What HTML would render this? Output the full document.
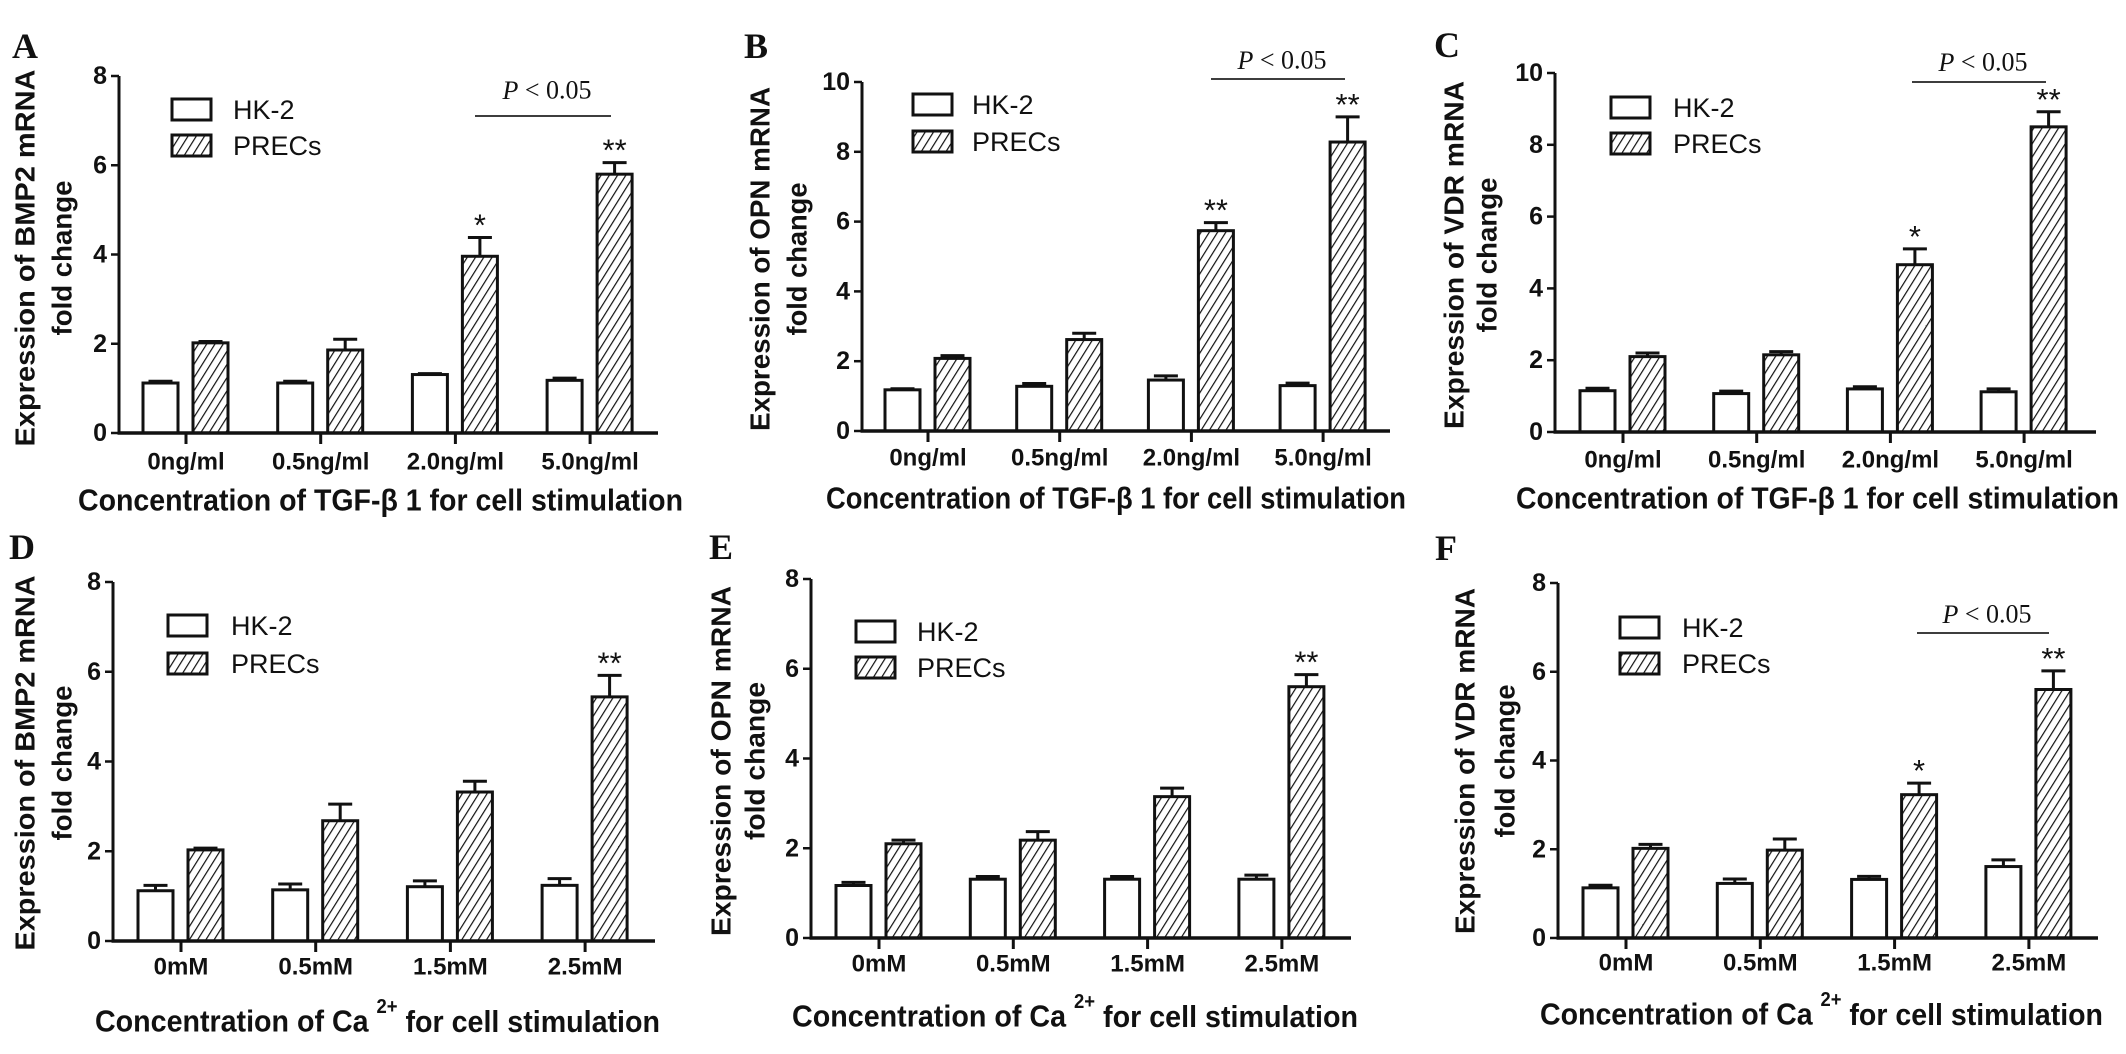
<!DOCTYPE html>
<html><head><meta charset="utf-8"><style>
html,body{margin:0;padding:0;background:#fff;}
svg{display:block;}
text{font-family:"Liberation Sans",Arial,sans-serif;fill:#111;}
text.serif, text.serif tspan{font-family:"Liberation Serif","Times New Roman",serif;}
</style></head><body>
<svg id="fig" width="2126" height="1054" viewBox="0 0 2126 1054" xmlns="http://www.w3.org/2000/svg">
<defs>
<pattern id="hatch" patternUnits="userSpaceOnUse" width="7" height="7" patternTransform="rotate(32)">
<rect width="7" height="7" fill="#fff"/>
<line x1="0" y1="0" x2="0" y2="7" stroke="#111" stroke-width="2.4"/>
</pattern>
</defs>
</svg>
<script>
// ---- data ----
const catTGF = ['0ng/ml','0.5ng/ml','2.0ng/ml','5.0ng/ml'];
const catCa = ['0mM','0.5mM','1.5mM','2.5mM'];
const hkA = [1.12,1.12,1.31,1.18];   const hkErrA = [0.04,0.04,0.02,0.05];
const prA = [2.02,1.86,3.96,5.80];   const prErrA = [0.03,0.24,0.42,0.26];
const hkB = [1.18,1.28,1.46,1.30];   const hkErrB = [0.03,0.08,0.12,0.07];
const prB = [2.08,2.62,5.74,8.28];   const prErrB = [0.08,0.18,0.23,0.72];
const hkC = [1.15,1.07,1.20,1.12];   const hkErrC = [0.07,0.07,0.06,0.08];
const prC = [2.10,2.15,4.66,8.50];   const prErrC = [0.10,0.09,0.44,0.42];
const hkD = [1.12,1.14,1.21,1.24];   const hkErrD = [0.12,0.13,0.13,0.15];
const prD = [2.03,2.68,3.32,5.44];   const prErrD = [0.04,0.37,0.24,0.48];
const hkE = [1.17,1.31,1.31,1.31];   const hkErrE = [0.07,0.06,0.06,0.09];
const prE = [2.10,2.18,3.15,5.60];   const prErrE = [0.08,0.19,0.19,0.27];
const hkF = [1.13,1.23,1.32,1.61];   const hkErrF = [0.06,0.10,0.07,0.15];
const prF = [2.02,1.98,3.23,5.60];   const prErrF = [0.09,0.25,0.26,0.42];
const starsA = ['','','*','**'];
const starsB = ['','','**','**'];
const starsC = ['','','*','**'];
const starsD = ['','','','**'];
const starsE = ['','','','**'];
const starsF = ['','','*','**'];
const yTicks8 = [0,2,4,6,8];
const yTicks10 = [0,2,4,6,8,10];

const svg = document.getElementById('fig');
const NS = 'http://www.w3.org/2000/svg';
function mk(tag, attrs, parent){
  const e = document.createElementNS(NS, tag);
  for (const k in attrs) e.setAttribute(k, attrs[k]);
  (parent||svg).appendChild(e);
  return e;
}

const panels = [
 {id:'a',letter:'A',lx:12,ly:58,ax:119,y0:433,yTop:76,ymax:8,ticks:yTicks8,xEnd:658,g0:186,gs:134.7,
  cats:catTGF,hk:hkA,hkE:hkErrA,pr:prA,prE:prErrA,stars:starsA,
  lgX:172,lgHK:99,lgPR:135,lgT:233,p:{x1:475,x2:611,y:116,ty:90},
  yt:['Expression of BMP2  mRNA','fold change'],ytx:[25,62],ytc:258,ytl:[377,155],
  xty:462,xtitle:'tgf',xtY:500,xt1:78,xt2:683},
 {id:'b',letter:'B',lx:744,ly:58,ax:862,y0:431,yTop:82,ymax:10,ticks:yTicks10,xEnd:1390,g0:928,gs:131.7,
  cats:catTGF,hk:hkB,hkE:hkErrB,pr:prB,prE:prErrB,stars:starsB,
  lgX:913,lgHK:94,lgPR:131,lgT:972,p:{x1:1211,x2:1345,y:79,ty:60},
  yt:['Expression of OPN mRNA','fold change'],ytx:[760,797],ytc:259,ytl:[344,153],
  xty:458,xtitle:'tgf',xtY:498,xt1:826,xt2:1406},
 {id:'c',letter:'C',lx:1434,ly:57,ax:1555,y0:432,yTop:73,ymax:10,ticks:yTicks10,xEnd:2096,g0:1623,gs:133.7,
  cats:catTGF,hk:hkC,hkE:hkErrC,pr:prC,prE:prErrC,stars:starsC,
  lgX:1611,lgHK:97,lgPR:133,lgT:1673,p:{x1:1912,x2:2046,y:82,ty:62},
  yt:['Expression of VDR mRNA','fold change'],ytx:[1454,1487],ytc:255,ytl:[348,155],
  xty:460,xtitle:'tgf',xtY:498,xt1:1516,xt2:2119},
 {id:'d',letter:'D',lx:9,ly:559,ax:113,y0:941,yTop:582,ymax:8,ticks:yTicks8,xEnd:655,g0:181,gs:134.7,
  cats:catCa,hk:hkD,hkE:hkErrD,pr:prD,prE:prErrD,stars:starsD,
  lgX:168,lgHK:615,lgPR:653,lgT:231,p:null,
  yt:['Expression of BMP2  mRNA','fold change'],ytx:[25,62],ytc:763,ytl:[375,155],
  xty:967,xtitle:'ca',xtY:1021,xt1:95,xt2:660},
 {id:'e',letter:'E',lx:709,ly:559,ax:811,y0:938,yTop:579,ymax:8,ticks:yTicks8,xEnd:1351,g0:879,gs:134.3,
  cats:catCa,hk:hkE,hkE:hkErrE,pr:prE,prE:prErrE,stars:starsE,
  lgX:856,lgHK:621,lgPR:657,lgT:917,p:null,
  yt:['Expression of OPN mRNA','fold change'],ytx:[721,755],ytc:761,ytl:[350,158],
  xty:964,xtitle:'ca',xtY:1016,xt1:792,xt2:1358},
 {id:'f',letter:'F',lx:1435,ly:560,ax:1558,y0:938,yTop:583,ymax:8,ticks:yTicks8,xEnd:2098,g0:1626,gs:134.3,
  cats:catCa,hk:hkF,hkE:hkErrF,pr:prF,prE:prErrF,stars:starsF,
  lgX:1620,lgHK:617,lgPR:653,lgT:1682,p:{x1:1917,x2:2049,y:633,ty:614},
  yt:['Expression of VDR mRNA','fold change'],ytx:[1465,1505],ytc:761,ytl:[346,153],
  xty:963,xtitle:'ca',xtY:1014,xt1:1540,xt2:2103}
];

panels.forEach(P => {
  const g = mk('g', {});
  
  
  const yS = v => P.y0 - (v / P.ymax) * (P.y0 - P.yTop);
  const xS = i => P.g0 + i * P.gs;

  const lt = mk('text', {class:'serif', x:P.lx, y:P.ly, 'font-weight':'bold','font-size':36}, g);
  lt.textContent = P.letter;
  
  

  for (let i = 0; i < P.cats.length; i++) {
    const gx = xS(i);
    [[P.hk, P.hkE, gx - 43, '#fff', 'hk2'], [P.pr, P.prE, gx + 7, 'url(#hatch)', 'precs']].forEach(s => {
      const v = s[0][i], e = s[1][i], x = s[2];
      const r = mk('rect', {x:x, y:yS(v), width:35, height:P.y0 - yS(v), fill:s[3], stroke:'#111','stroke-width':3}, g);
      
      
      const cx = x + 17.5;
      const eb = mk('path', {d:'M' + cx + ' ' + yS(v) + 'V' + yS(v + e) + 'M' + (cx - 12) + ' ' + yS(v + e) + 'H' + (cx + 12), stroke:'#111','stroke-width':3, fill:'none'}, g);
      
      
    });
    if (P.stars[i]) {
      const st = mk('text', {x:gx + 24.5, y:yS(P.pr[i] + P.prE[i]) - 2, 'text-anchor':'middle','font-size':31}, g);
      st.textContent = P.stars[i];
      
      
    }
    const tk = mk('line', {x1:gx, x2:gx, y1:P.y0, y2:P.y0 + 11, stroke:'#111','stroke-width':3}, g);
    
    
    const tl = mk('text', {x:gx, y:P.xty, 'text-anchor':'middle','dominant-baseline':'central','font-size':24,'font-weight':'bold'}, g);
    tl.textContent = P.cats[i];
    
    
  }

  const ya = mk('line', {x1:P.ax, x2:P.ax, y1:P.yTop, y2:P.y0 + 1.5, stroke:'#111','stroke-width':3}, g);
  
  
  const xa = mk('line', {x1:P.ax - 1.5, x2:P.xEnd, y1:P.y0, y2:P.y0, stroke:'#111','stroke-width':3.5}, g);
  
  
  P.ticks.forEach(t => {
    const l = mk('line', {x1:P.ax - 8, x2:P.ax, y1:yS(t), y2:yS(t), stroke:'#111','stroke-width':2.5}, g);
    
    
    const tx = mk('text', {x:P.ax - 12, y:yS(t), 'text-anchor':'end','dominant-baseline':'central','font-size':25,'font-weight':'bold'}, g);
    tx.textContent = t;
    
    
  });

  P.yt.forEach((s, k) => {
    const t = mk('text', {x:0, y:0, transform:'translate(' + P.ytx[k] + ',' + P.ytc + ') rotate(-90)', 'text-anchor':'middle','dominant-baseline':'central','font-size':28,'font-weight':'bold', textLength:P.ytl[k], lengthAdjust:'spacingAndGlyphs'}, g);
    t.textContent = s;
    
    
  });

  const xt = mk('text', {x:P.xt1, y:P.xtY, 'dominant-baseline':'central','font-size':31,'font-weight':'bold', textLength:P.xt2 - P.xt1, lengthAdjust:'spacingAndGlyphs'}, g);
  
  
  if (P.xtitle === 'tgf') {
    xt.textContent = 'Concentration of TGF-\u03B2 1 for cell stimulation';
  } else {
    xt.appendChild(document.createTextNode('Concentration of Ca '));
    const sp = mk('tspan', {'font-size':20, dy:-14}, xt);
    sp.textContent = '2+';
    const sp2 = mk('tspan', {dy:14}, xt);
    sp2.textContent = '  for cell stimulation';
  }

  [['HK-2', P.lgHK, '#fff', 'legend-hk2'], ['PRECs', P.lgPR, 'url(#hatch)', 'legend-precs']].forEach(L => {
    const lg = mk('g', {}, g);
    
    
    mk('rect', {x:P.lgX, y:L[1], width:39, height:21, fill:L[2], stroke:'#111','stroke-width':3}, lg);
    const t = mk('text', {x:P.lgT, y:L[1] + 11, 'dominant-baseline':'central','font-size':27}, lg);
    t.textContent = L[0];
  });

  if (P.p) {
    const pl = mk('line', {x1:P.p.x1, x2:P.p.x2, y1:P.p.y, y2:P.p.y, stroke:'#222','stroke-width':1.8}, g);
    
    
    const pt = mk('text', {class:'serif', x:(P.p.x1 + P.p.x2) / 2 + 4, y:P.p.ty, 'text-anchor':'middle','dominant-baseline':'central','font-size':26}, g);
    
    
    const it = mk('tspan', {'font-style':'italic'}, pt);
    it.textContent = 'P';
    pt.appendChild(document.createTextNode(' < 0.05'));
  }
});
</script>
</body></html>
